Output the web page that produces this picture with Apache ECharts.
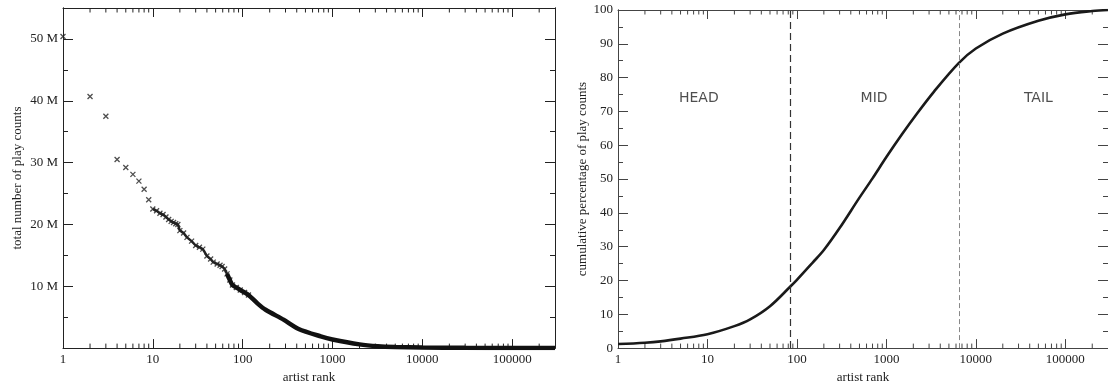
<!DOCTYPE html>
<html>
<head>
<meta charset="utf-8">
<script src="https://cdn.jsdelivr.net/npm/echarts@6/dist/echarts.min.js"></script>
<style>
html,body{margin:0;padding:0;background:#fff;}
#chart{width:1108px;height:389px;}
</style>
</head>
<body>
<div id="chart"></div>
<script>
// ---- data ----
const playRanks = [1,2,3,4,5,6,7,8,9,10,11,12,13,14,15,16,17,18,19,20,22,24,27,30,33,36,40,44,47,52,56,59,63,67,72,77,85,94,105,116,147,180,285,420,740,1000,2000,3200,5000,10000,30000,100000,300000];
const playCountsM = [50.4,40.7,37.5,30.5,29.2,28.1,27.0,25.7,24.0,22.5,22.2,21.8,21.6,21.2,20.8,20.5,20.3,20.1,20.0,19.0,18.6,17.9,17.3,16.6,16.3,16.0,14.9,14.4,13.9,13.6,13.4,13.2,12.8,12.0,11.0,10.2,9.8,9.4,9.0,8.6,7.2,6.2,4.6,3.1,1.9,1.4,0.6,0.3,0.18,0.1,0.04,0.01,0.003];
const cumRanks = [1,2,3,5,10,20,30,50,85,100,150,200,300,500,700,1000,1500,2120,3390,6430,10000,20000,50000,100000,200000,300000];
const cumPct = [1.2,1.6,2.0,2.8,4.1,6.5,8.5,12.4,18.3,20.2,25.3,29.0,35.5,44.5,50.2,56.5,63.3,68.8,75.8,84.3,88.6,93.0,96.8,98.7,99.7,100];
const boundaries = [85, 6450];           // HEAD|MID and MID|TAIL cut ranks
const regionLabels = ['HEAD', 'MID', 'TAIL'];
const regionLabelPos = [[8, 74], [728, 74], [50000, 74]];
const xMin = 1, xMax = 300000;
const yTicksLeft = {min: 0, max: 55, major: 10, minor: 5};
const yTicksRight = {min: 0, max: 100, major: 10, minor: 5};

// minor tick values on the log axes (2..9 x 10^k)
const minorX = [];
for (let k = 0; k <= 5; k++) for (let m = 2; m <= 9; m++) { const v = m * Math.pow(10, k); if (v < xMax) minorX.push(v); }

// ---- chart ----
const SERIF = 'Liberation Serif';
const LC = '#222', RC = '#444';
const chart = echarts.init(document.getElementById('chart'), null, {renderer: 'canvas'});

function logX(grid, pos, color, labels) {
  return {
    type: 'log', logBase: 10, gridIndex: grid, position: pos, min: xMin, max: xMax,
    name: labels ? 'artist rank' : '', nameLocation: 'middle', nameGap: 18,
    nameTextStyle: {fontFamily: SERIF, fontSize: 13, color: '#222'},
    axisLine: {show: true, onZero: false, lineStyle: {color: color, width: 1}},
    axisTick: {show: true, inside: true, length: 9, lineStyle: {color: color}},
    axisLabel: {show: labels, fontFamily: SERIF, fontSize: 13, color: '#222', margin: 5,
      showMaxLabel: false, showMinLabel: true, formatter: v => String(Math.round(v))},
    splitLine: {show: false}, minorTick: {show: false}
  };
}
function linY(grid, pos, color, t, step, len, labels, name, gap, fmt) {
  return {
    type: 'value', gridIndex: grid, position: pos, min: t.min, max: t.max, interval: step,
    name: name || '', nameLocation: 'middle', nameGap: gap || 0,
    nameTextStyle: {fontFamily: SERIF, fontSize: 13, color: '#222'},
    axisLine: {show: true, onZero: false, lineStyle: {color: color, width: 1}},
    axisTick: {show: true, inside: true, length: len, lineStyle: {color: color}},
    axisLabel: {show: labels, fontFamily: SERIF, fontSize: 13, color: '#222', margin: 5,
      showMaxLabel: labels && t.max % step === 0, formatter: fmt},
    splitLine: {show: false}
  };
}
function minorRender(color) {
  return function (params, api) {
    const x = api.coord([api.value(0), api.value(1)])[0];
    const cs = params.coordSys;
    const st = {stroke: color, lineWidth: 1};
    return {type: 'group', children: [
      {type: 'line', shape: {x1: x, y1: cs.y + cs.height, x2: x, y2: cs.y + cs.height - 4.5}, style: st},
      {type: 'line', shape: {x1: x, y1: cs.y, x2: x, y2: cs.y + 4.5}, style: st}
    ]};
  };
}

const pts = playRanks.map((r, i) => [r, playCountsM[i]]);
const headPts = pts.filter(p => p[0] <= 120);
const midLine = pts.filter(p => p[0] >= 10 && p[0] <= 77);
const tailLine = pts.filter(p => p[0] >= 67);
const cumPts = cumRanks.map((r, i) => [r, cumPct[i]]);

const option = {
  animation: false,
  backgroundColor: '#fff',
  grid: [
    {left: 63, top: 8, right: 553, bottom: 37},
    {left: 618, top: 10, right: -2, bottom: 35}
  ],
  xAxis: [
    logX(0, 'bottom', LC, true),
    logX(0, 'top', LC, false),
    logX(1, 'bottom', RC, true),
    logX(1, 'top', RC, false)
  ],
  yAxis: [
    linY(0, 'left', LC, yTicksLeft, yTicksLeft.major, 10, true, 'total number of play counts', 39, v => v === 0 ? '' : v + ' M'),
    linY(0, 'left', LC, yTicksLeft, yTicksLeft.minor, 5, false),
    linY(0, 'right', LC, yTicksLeft, yTicksLeft.major, 10, false),
    linY(0, 'right', LC, yTicksLeft, yTicksLeft.minor, 5, false),
    linY(1, 'left', RC, yTicksRight, yTicksRight.major, 10, true, 'cumulative percentage of play counts', 29, v => String(v)),
    linY(1, 'left', RC, yTicksRight, yTicksRight.minor, 5, false),
    linY(1, 'right', RC, yTicksRight, yTicksRight.major, 10, false),
    linY(1, 'right', RC, yTicksRight, yTicksRight.minor, 5, false)
  ],
  series: [
    {type: 'custom', xAxisIndex: 0, yAxisIndex: 0, silent: true, renderItem: minorRender(LC),
      data: minorX.map(v => [v, 0]), z: 1},
    {type: 'custom', xAxisIndex: 2, yAxisIndex: 4, silent: true, renderItem: minorRender(RC),
      data: minorX.map(v => [v, 0]), z: 1},
    {type: 'line', xAxisIndex: 0, yAxisIndex: 0, data: midLine, showSymbol: false, symbol: 'none',
      lineStyle: {color: '#222', width: 2.4}, silent: true},
    {type: 'line', xAxisIndex: 0, yAxisIndex: 0, data: tailLine, showSymbol: false, symbol: 'none',
      smooth: 0.25,
      lineStyle: {color: '#111', width: 4.5}, silent: true},
    {type: 'scatter', xAxisIndex: 0, yAxisIndex: 0, data: headPts,
      symbol: 'path://M0,0L10,10M10,0L0,10', symbolSize: 5,
      itemStyle: {color: 'none', borderColor: '#222', borderWidth: 1.3}, silent: true},
    {type: 'line', xAxisIndex: 2, yAxisIndex: 4, data: cumPts, smooth: 0.35,
      showSymbol: false, symbol: 'none',
      lineStyle: {color: '#1a1a1a', width: 2.6}, silent: true,
      markLine: {silent: true, symbol: 'none', label: {show: false},
        data: [
          {xAxis: boundaries[0], lineStyle: {color: '#333', width: 1.2, type: [7, 4]}},
          {xAxis: boundaries[1], lineStyle: {color: '#888', width: 1, type: [5, 3]}}
        ]}},
    {type: 'scatter', xAxisIndex: 2, yAxisIndex: 4, symbolSize: 0, silent: true,
      data: regionLabelPos.map((p, i) => ({value: p, name: regionLabels[i]})),
      label: {show: true, position: 'inside', formatter: p => p.name,
        fontFamily: 'DejaVu Sans', fontSize: 14, color: '#222'}}
  ]
};
chart.setOption(option);
</script>
</body>
</html>
